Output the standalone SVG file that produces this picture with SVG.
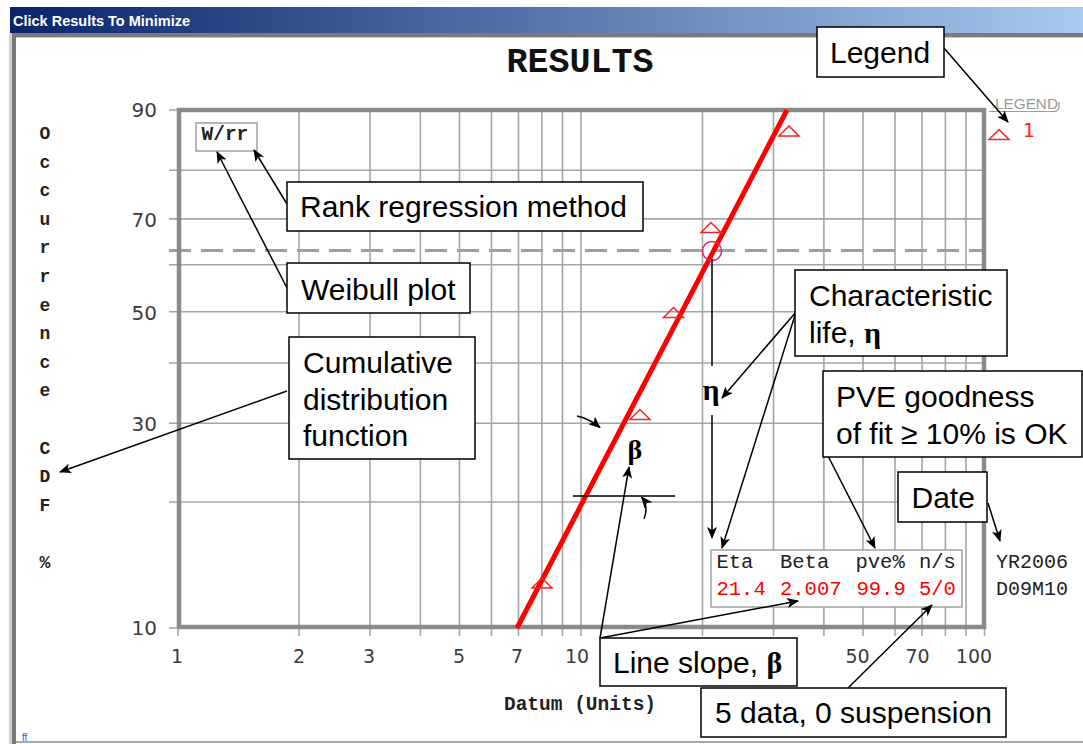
<svg xmlns="http://www.w3.org/2000/svg" width="1083" height="744" viewBox="0 0 1083 744">
<style>
.call{font-family:"Liberation Sans",Arial,sans-serif;font-size:30px;fill:#000}
.gk{font-family:"Liberation Serif","Times New Roman",serif;font-weight:bold}
.box{fill:#fff;stroke:#000;stroke-width:1.5}
.grid{stroke:#a6a6a6;stroke-width:1.6;fill:none}
.mono{font-family:"Liberation Mono","Courier New",monospace}
.num{font-family:"DejaVu Sans","Liberation Sans",sans-serif;fill:#3c3c3c}
.tri{fill:none;stroke:#ff2020;stroke-width:1.5}
.con{stroke:#000;stroke-width:1.5;fill:none}
.arr{marker-end:url(#ah)}
</style>
<defs>
<linearGradient id="tb" x1="0" y1="0" x2="1" y2="0">
<stop offset="0" stop-color="#0a246a"/>
<stop offset="1" stop-color="#a6caf0"/>
</linearGradient>
<marker id="ah" viewBox="0 0 12 10" refX="11" refY="5" markerWidth="12" markerHeight="10" markerUnits="userSpaceOnUse" orient="auto">
<path d="M0,0 L12,5 L0,10 L3,5 z" fill="#000"/>
</marker>
</defs>

<!-- window -->
<rect x="0" y="0" width="1083" height="744" fill="#ffffff"/>
<rect x="10" y="7" width="1073" height="26" fill="url(#tb)"/>
<text x="13" y="26" font-family="Liberation Sans,Arial,sans-serif" font-size="14.5" font-weight="bold" fill="#fff">Click Results To Minimize</text>
<rect x="9" y="33" width="3" height="711" fill="#d4d0c8"/>
<rect x="12" y="33" width="4" height="711" fill="#7a7a7a"/>
<rect x="12" y="33" width="1071" height="4" fill="#7a7a7a"/>
<rect x="16" y="37" width="1067" height="1" fill="#c8c8c8"/>
<rect x="16" y="741" width="1067" height="2" fill="#a8a8a8"/>
<text x="22" y="741" font-family="Liberation Sans,sans-serif" font-size="10" fill="#3050ff">ff</text>

<!-- title -->
<text x="580" y="72" text-anchor="middle" class="mono" font-size="35" font-weight="bold" fill="#111">RESULTS</text>

<!-- grid -->
<g id="grid">
<path class="grid" d="M169,110H984 M169,170.2H984 M169,218.9H984 M169,264.8H984 M169,311.7H984 M169,363H984 M169,423.3H984 M169,502H984 M169,628H984"/>
<path class="grid" d="M178,110V636 M299,110V636 M370,110V636 M420.4,110V636 M459.5,110V636 M491.5,110V636 M518.5,110V636 M541.9,110V636 M562.5,110V636 M581,110V636 M702.5,110V636 M773.5,110V636 M823.9,110V636 M863,110V636 M895,110V636 M922,110V636 M945.4,110V636 M966,110V636 M984.5,110V636"/>
<path d="M169,250.5H984" stroke="#a0a0a0" stroke-width="3" stroke-dasharray="22 10" fill="none"/>
<rect x="179" y="110" width="805" height="517" fill="none" stroke="#8a8a8a" stroke-width="4.5"/>
</g>

<!-- axis labels -->
<g id="yaxis" class="num" font-size="20" text-anchor="end">
<text x="157" y="117">90</text>
<text x="157" y="226.5">70</text>
<text x="157" y="319.5">50</text>
<text x="157" y="430.5">30</text>
<text x="157" y="635">10</text>
</g>
<g id="xaxis" class="num" font-size="19" text-anchor="middle">
<text x="177" y="663">1</text>
<text x="299" y="663">2</text>
<text x="369" y="663">3</text>
<text x="459" y="663">5</text>
<text x="517" y="663">7</text>
<text x="577" y="663">10</text>
<text x="857.5" y="663">50</text>
<text x="917.5" y="663">70</text>
<text x="974" y="663">100</text>
</g>
<g id="ytitle" class="mono" font-size="18" font-weight="bold" fill="#222" text-anchor="middle">
<text x="45" y="139">O</text>
<text x="45" y="167.6">c</text>
<text x="45" y="196.2">c</text>
<text x="45" y="224.8">u</text>
<text x="45" y="253.4">r</text>
<text x="45" y="282">r</text>
<text x="45" y="310.6">e</text>
<text x="45" y="339.2">n</text>
<text x="45" y="367.8">c</text>
<text x="45" y="396.4">e</text>
<text x="45" y="453.6">C</text>
<text x="45" y="482.2">D</text>
<text x="45" y="510.8">F</text>
<text x="45" y="568">%</text>
</g>
<text id="xtitle" x="580" y="710" text-anchor="middle" class="mono" font-size="19.5" font-weight="bold" fill="#222">Datum (Units)</text>

<!-- fit line and data -->
<g id="fit">
<path d="M517,628 L787,110" stroke="#ff0000" stroke-width="5" fill="none"/>
<circle cx="712" cy="251" r="9.5" fill="none" stroke="#e0206f" stroke-width="1.5"/>
<path class="tri" d="M542,578 L532,588 L552,588 Z"/>
<path class="tri" d="M640,409.5 L630,419.5 L650,419.5 Z"/>
<path class="tri" d="M673.5,307.5 L663.5,317.5 L683.5,317.5 Z"/>
<path class="tri" d="M711,222.5 L701,232.5 L721,232.5 Z"/>
<path class="tri" d="M789,126 L779,136 L799,136 Z"/>
</g>

<!-- legend -->
<g id="legend">
<text x="995" y="109" font-family="Liberation Sans,sans-serif" font-size="14" fill="#9a9a9a" textLength="63" lengthAdjust="spacingAndGlyphs">LEGEND</text>
<path d="M989,111.5 H1054 Q1059,111.5 1059,106 V102" fill="none" stroke="#9a9a9a" stroke-width="1.2"/>
<path class="tri" d="M999,129.5 L989,139.5 L1009,139.5 Z"/>
<text x="1023" y="137" font-family="DejaVu Sans,sans-serif" font-size="19" fill="#ff2020">1</text>
</g>

<!-- W/rr -->
<g id="wrr">
<rect x="196" y="123" width="61" height="28" fill="#fff" stroke="#a0a0a0" stroke-width="1.5"/>
<text x="201.5" y="140" class="mono" font-size="19.5" font-weight="bold" fill="#222">W/rr</text>
</g>

<!-- table -->
<g id="table">
<rect x="711" y="550" width="251" height="57" fill="#fff" stroke="#a0a0a0" stroke-width="1.5"/>
<text class="mono" font-size="20.5" fill="#222" y="567.5"><tspan x="716.5">Eta</tspan><tspan x="780">Beta</tspan><tspan x="855.5">pve%</tspan><tspan x="919">n/s</tspan></text>
<text class="mono" font-size="20.5" fill="#ff0000" y="594.5"><tspan x="716.5">21.4</tspan><tspan x="780">2.007</tspan><tspan x="856.5">99.9</tspan><tspan x="919">5/0</tspan></text>
</g>
<g id="date-stamp" class="mono" font-size="20" fill="#222">
<text x="996" y="567.5">YR2006</text>
<text x="996" y="594.5">D09M10</text>
</g>

<!-- eta / beta marks -->
<g id="marks">
<text x="711" y="400" text-anchor="middle" class="gk" font-size="30">η</text>
<text x="635" y="459" text-anchor="middle" class="gk" font-size="28">β</text>
</g>

<!-- connectors -->
<g id="connectors">
<path class="con" d="M712,259 V366"/>
<path class="con arr" d="M712,415 V538"/>
<path class="con" d="M573,496 H675"/>
<path class="con arr" stroke-width="2" d="M577,416 Q590,419 600,427.5"/>
<path class="con arr" stroke-width="2" d="M644,519 Q649,506 641.5,497"/>
<path class="con arr" d="M944,48 L1008,122"/>
<path class="con arr" d="M287,204 L254,150"/>
<path class="con arr" d="M287,288 L217,152"/>
<path class="con arr" d="M287,391 L60,472"/>
<path class="con arr" d="M796,312 L722,398"/>
<path class="con arr" d="M796,312 L722,548"/>
<path class="con arr" d="M600,638 L629,467"/>
<path class="con arr" d="M600,638 L798,601"/>
<path class="con arr" d="M848,688 L932,605"/>
<path class="con arr" d="M826,452 L875,548"/>
<path class="con arr" d="M988,503 L1000,541"/>
</g>

<!-- callouts -->
<g id="legend-callout">
<rect class="box" x="817" y="27" width="127" height="50"/>
<text class="call" x="830" y="63">Legend</text>
</g>
<g id="rank-callout">
<rect class="box" x="287" y="182" width="356" height="49"/>
<text class="call" x="300" y="217">Rank regression method</text>
</g>
<g id="weibull-callout">
<rect class="box" x="287" y="263" width="183" height="50"/>
<text class="call" x="301" y="300">Weibull plot</text>
</g>
<g id="cdf-callout">
<rect class="box" x="289" y="337" width="186" height="122"/>
<text class="call" x="303" y="373">Cumulative</text>
<text class="call" x="303" y="409.5">distribution</text>
<text class="call" x="303" y="446">function</text>
</g>
<g id="char-callout">
<rect class="box" x="795" y="270" width="212" height="86"/>
<text class="call" x="809" y="306">Characteristic</text>
<text class="call" x="809" y="343">life, <tspan class="gk">η</tspan></text>
</g>
<g id="pve-callout">
<rect class="box" x="823" y="371" width="259" height="86"/>
<text class="call" x="836" y="407">PVE goodness</text>
<text class="call" x="836" y="444">of fit ≥ 10% is OK</text>
</g>
<g id="date-callout">
<rect class="box" x="898" y="472" width="89" height="50"/>
<text class="call" x="911.5" y="508">Date</text>
</g>
<g id="slope-callout">
<rect class="box" x="600" y="638" width="197" height="48"/>
<text class="call" x="613" y="672.5">Line slope, <tspan class="gk">β</tspan></text>
</g>
<g id="data-callout">
<rect class="box" x="701" y="688" width="305" height="49"/>
<text class="call" x="715" y="723">5 data, 0 suspension</text>
</g>
</svg>
